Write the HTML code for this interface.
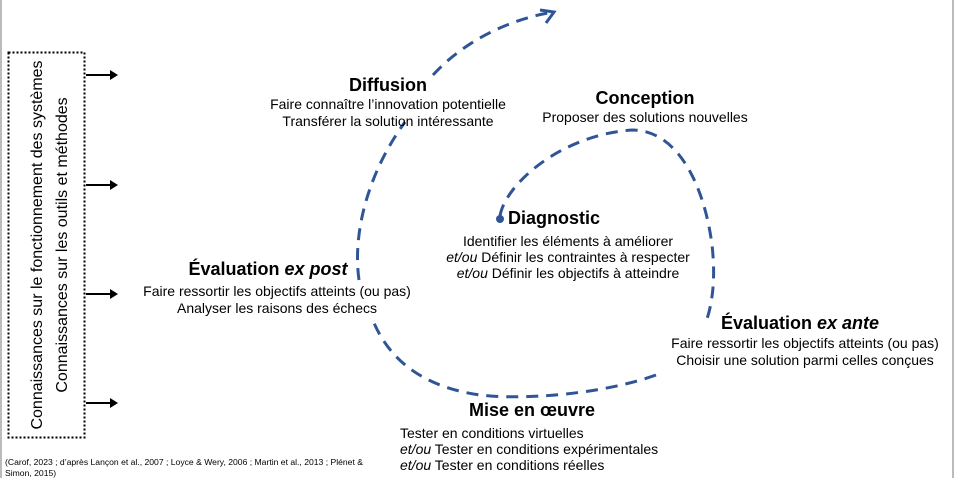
<!DOCTYPE html>
<html><head><meta charset="utf-8">
<style>
body{margin:0;width:954px;height:478px;background:#fff;position:relative;overflow:hidden;font-family:"Liberation Sans",sans-serif;color:#000}
.t{position:absolute;white-space:nowrap;font-size:14px;line-height:16.5px;text-align:center;transform:translateX(-50%)}
.t b{font-size:18px;line-height:21px;display:inline-block}
.bg{background:#fff}
</style></head><body>
<div style="position:absolute;left:0;top:0;width:2px;height:478px;background:#bbb"></div>
<div style="position:absolute;right:0;top:0;width:2px;height:478px;background:#bbb"></div>
<svg width="954" height="478" style="position:absolute;left:0;top:0">
<g fill="none" stroke="#2f5597" stroke-width="3" stroke-dasharray="12 8">
<path d="M500,216 C505,185 560,135 632,130 C680,130 705,190 712,245 C716,280 712,305 706,322"/>
<path d="M656,375 C600,395 520,400 480,395 C430,388 390,365 372,318"/>
<path d="M359,280 C352,230 370,170 405,122"/>
<path d="M433,75 C465,40 510,20 548,13"/>
</g>
<circle cx="500" cy="219" r="4" fill="#2f5597"/>
<path d="M540,10 L554,12 L546,23" fill="none" stroke="#2f5597" stroke-width="3"/>
<rect x="8.5" y="52.5" width="76" height="385" fill="none" stroke="#000" stroke-width="2" stroke-dasharray="2 2"/>
<g stroke="#000" stroke-width="2" fill="#000">
<line x1="86" y1="75" x2="113" y2="75"/><path d="M118,75 L110,70 L110,80Z" stroke="none"/>
<line x1="86" y1="185" x2="113" y2="185"/><path d="M118,185 L110,180 L110,190Z" stroke="none"/>
<line x1="86" y1="294" x2="113" y2="294"/><path d="M118,294 L110,289 L110,299Z" stroke="none"/>
<line x1="86" y1="403" x2="113" y2="403"/><path d="M118,403 L110,398 L110,408Z" stroke="none"/>
</g>
<text transform="translate(42,245) rotate(-90)" text-anchor="middle" font-family="Liberation Sans,sans-serif" font-size="16">Connaissances sur le fonctionnement des systèmes</text>
<text transform="translate(67,245) rotate(-90)" text-anchor="middle" font-family="Liberation Sans,sans-serif" font-size="16">Connaissances sur les outils et méthodes</text>
</svg>
<div class="t" style="left:388px;top:75px"><b>Diffusion</b><br>Faire connaître l’innovation potentielle<br>Transférer la solution intéressante</div>
<div class="t" style="left:645px;top:88px"><b>Conception</b><br>Proposer des solutions nouvelles</div>
<div class="t" style="top:208px;text-align:left;transform:none;left:508px"><b>Diagnostic</b></div>
<div class="t" style="left:568px;top:233px;line-height:16px">Identifier les éléments à améliorer<br><i>et/ou</i> Définir les contraintes à respecter<br><i>et/ou</i> Définir les objectifs à atteindre</div>
<div class="t bg" style="left:268px;top:259px"><b>Évaluation <i>ex post</i></b></div>
<div class="t bg" style="left:277px;top:283px">Faire ressortir les objectifs atteints (ou pas)<br>Analyser les raisons des échecs</div>
<div class="t bg" style="left:800px;top:313px"><b>Évaluation <i>ex ante</i></b></div>
<div class="t bg" style="left:805px;top:335px">Faire ressortir les objectifs atteints (ou pas)<br>Choisir une solution parmi celles conçues</div>
<div class="t" style="left:532px;top:400px"><b>Mise en œuvre</b></div>
<div class="t" style="left:400px;top:425px;transform:none;text-align:left;line-height:16px">Tester en conditions virtuelles<br><i>et/ou</i> Tester en conditions expérimentales<br><i>et/ou</i> Tester en conditions réelles</div>
<div style="position:absolute;left:5px;top:457px;font-size:8.6px;line-height:11px;width:382px">(Carof, 2023 ; d’après Lançon et al., 2007 ; Loyce &amp; Wery, 2006 ; Martin et al., 2013 ; Plénet &amp; Simon, 2015)</div>
</body></html>
